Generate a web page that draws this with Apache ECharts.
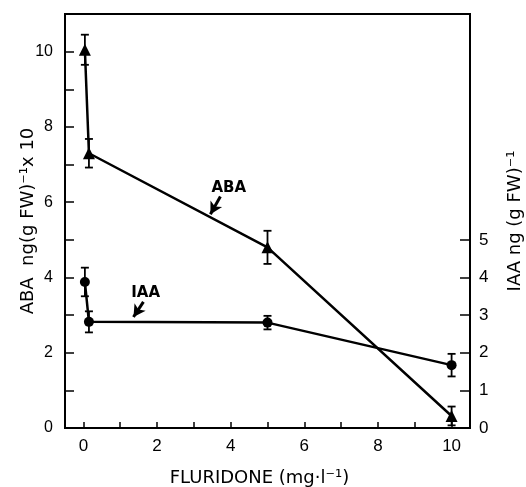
<!DOCTYPE html>
<html>
<head>
<meta charset="utf-8">
<script src="https://cdn.jsdelivr.net/npm/echarts@6/dist/echarts.min.js"></script>
<style>
html,body{margin:0;padding:0;background:#fff;}
#chart{width:526px;height:487px;}
</style>
</head>
<body>
<div id="chart"></div>
<script>
// Fluridone concentration (mg/l) for each sample
const abaX = [0.04, 0.15, 5, 10];
const abaY = [10.05, 7.3, 4.8, 0.32];
const abaErr = [0.4, 0.38, 0.44, 0.25];
const iaaX = [0.04, 0.15, 5, 10];
const iaaY = [3.88, 2.82, 2.8, 1.67];
const iaaErr = [0.38, 0.28, 0.18, 0.3];
const xTicks = [0,1,2,3,4,5,6,7,8,9,10];
const xLabels = [0,2,4,6,8,10];
const leftTicks = [0,1,2,3,4,5,6,7,8,9,10];
const leftLabels = [0,2,4,6,8,10];
const rightTicks = [0,1,2,3,4,5];
// annotation text positions and arrows [tailX, tailY, headX, headY]
const abaLabel = [3.95, 6.37];
const abaArrow = [3.72, 6.15, 3.45, 5.68];
const iaaLabel = [1.69, 3.58];
const iaaArrow = [1.63, 3.35, 1.36, 2.95];

const FONT = 'Liberation Sans';
const TFONT = 'DejaVu Sans';
const chart = echarts.init(document.getElementById('chart'));

function errSeries(xs, ys, es, yIndex){
  return {
    type:'custom', yAxisIndex:yIndex, z:3,
    data: xs.map((x,i)=>[x, ys[i]-es[i], ys[i]+es[i]]),
    renderItem: function(params, api){
      const lo = api.coord([api.value(0), api.value(1)]);
      const hi = api.coord([api.value(0), api.value(2)]);
      const w = 4;
      const st = {stroke:'#000', lineWidth:1.8};
      return {type:'group', children:[
        {type:'line', shape:{x1:lo[0],y1:lo[1],x2:hi[0],y2:hi[1]}, style:st},
        {type:'line', shape:{x1:lo[0]-w,y1:lo[1],x2:lo[0]+w,y2:lo[1]}, style:st},
        {type:'line', shape:{x1:hi[0]-w,y1:hi[1],x2:hi[0]+w,y2:hi[1]}, style:st}
      ]};
    }
  };
}

const option = {
  animation:false,
  backgroundColor:'#fff',
  grid:{left:65, right:56, top:14, bottom:59, outerBoundsMode:'none', containLabel:false,
        show:true, borderColor:'#000', borderWidth:2, backgroundColor:'transparent'},
  xAxis:{
    type:'value', min:-0.5, max:10.5,
    name:'FLURIDONE (mg·l⁻¹)', nameLocation:'middle', nameGap:41, nameMoveOverlap:false,
    nameTextStyle:{fontFamily:TFONT, fontSize:18, color:'#000', padding:[0,16,0,0]},
    axisLine:{show:true, onZero:false, lineStyle:{color:'#000', width:2}},
    axisTick:{show:true, inside:true, length:6, lineStyle:{color:'#000', width:1.5}, customValues:xTicks},
    axisLabel:{fontFamily:FONT, fontSize:17, color:'#000', margin:10, customValues:xLabels},
    splitLine:{show:false}
  },
  yAxis:[{
    type:'value', min:0, max:11, position:'left',
    name:'ABA  ng(g FW)⁻¹x 10', nameLocation:'middle', nameGap:28, nameRotate:90, nameMoveOverlap:false,
    nameTextStyle:{fontFamily:TFONT, fontSize:18, color:'#000'},
    axisLine:{show:true, onZero:false, lineStyle:{color:'#000', width:2}},
    axisTick:{show:true, inside:true, length:9, lineStyle:{color:'#000', width:1.5}, customValues:leftTicks},
    axisLabel:{fontFamily:FONT, fontSize:16, color:'#000', margin:12, customValues:leftLabels},
    splitLine:{show:false}
  },{
    type:'value', min:0, max:11, position:'right',
    name:'IAA ng (g FW)⁻¹', nameLocation:'middle', nameGap:36, nameRotate:90, nameMoveOverlap:false,
    nameTextStyle:{fontFamily:TFONT, fontSize:18, color:'#000'},
    axisLine:{show:true, onZero:false, lineStyle:{color:'#000', width:2}},
    axisTick:{show:true, inside:true, length:10, lineStyle:{color:'#000', width:1.5}, customValues:rightTicks},
    axisLabel:{fontFamily:FONT, fontSize:17, color:'#000', margin:9, customValues:rightTicks},
    splitLine:{show:false}
  }],
  series:[
    {
      type:'line', yAxisIndex:0, z:4,
      data: abaX.map((x,i)=>[x, abaY[i]]),
      symbol:'triangle', symbolSize:12, showSymbol:true,
      lineStyle:{color:'#000', width:2.5}, itemStyle:{color:'#000'},
      markPoint:{
        symbol:'circle', symbolSize:0,
        label:{show:true, formatter:'ABA', fontFamily:TFONT, fontWeight:'bold', fontSize:15, color:'#000', position:'inside'},
        data:[{coord:abaLabel}]
      },
      markLine:{
        silent:true, symbol:['none','arrow'], symbolSize:[10,12],
        lineStyle:{color:'#000', width:3, type:'solid'}, label:{show:false},
        data:[[{coord:[abaArrow[0],abaArrow[1]]},{coord:[abaArrow[2],abaArrow[3]]}]]
      }
    },
    {
      type:'line', yAxisIndex:1, z:4,
      data: iaaX.map((x,i)=>[x, iaaY[i]]),
      symbol:'circle', symbolSize:10, showSymbol:true,
      lineStyle:{color:'#000', width:2.5}, itemStyle:{color:'#000'},
      markPoint:{
        symbol:'circle', symbolSize:0,
        label:{show:true, formatter:'IAA', fontFamily:TFONT, fontWeight:'bold', fontSize:15, color:'#000', position:'inside'},
        data:[{coord:iaaLabel}]
      },
      markLine:{
        silent:true, symbol:['none','arrow'], symbolSize:[10,12],
        lineStyle:{color:'#000', width:3, type:'solid'}, label:{show:false},
        data:[[{coord:[iaaArrow[0],iaaArrow[1]]},{coord:[iaaArrow[2],iaaArrow[3]]}]]
      }
    },
    errSeries(abaX, abaY, abaErr, 0),
    errSeries(iaaX, iaaY, iaaErr, 1)
  ]
};
chart.setOption(option);
</script>
</body>
</html>
